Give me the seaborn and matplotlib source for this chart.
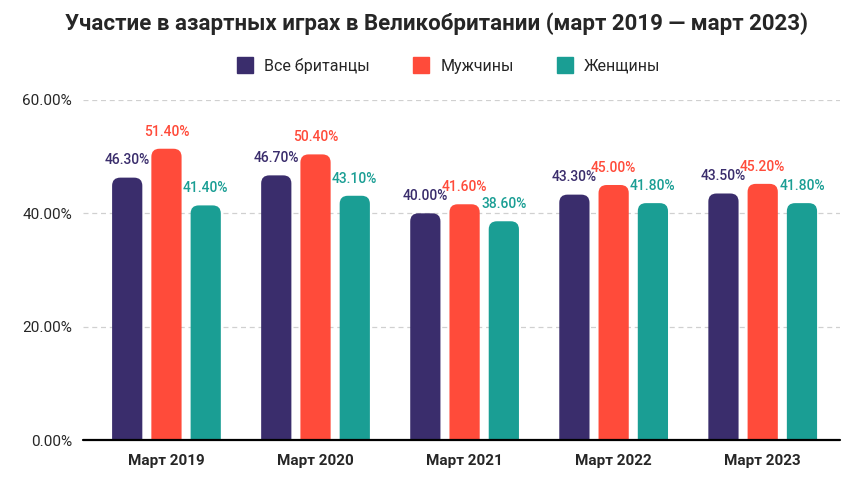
import matplotlib
matplotlib.use("Agg")
import matplotlib.pyplot as plt
import pandas as pd
import seaborn as sns
from matplotlib.patches import FancyBboxPatch
from matplotlib.lines import Line2D

periods = ["Март 2019", "Март 2020", "Март 2021", "Март 2022", "Март 2023"]
series = ["Все британцы", "Мужчины", "Женщины"]
all_uk = [46.3, 46.7, 40.0, 43.3, 43.5]
men = [51.4, 50.4, 41.6, 45.0, 45.2]
women = [41.4, 43.1, 38.6, 41.8, 41.8]
colors = ["#3a2d6c", "#ff4b3a", "#1a9e94"]

df = pd.DataFrame({
    "period": periods * 3,
    "group": [s for s in series for _ in periods],
    "value": all_uk + men + women,
})

sns.set_style("white")
plt.rcParams["font.family"] = ["Roboto", "DejaVu Sans"]

fig = plt.figure(figsize=(8.6, 4.84), dpi=100)
ax = fig.add_axes([0.0965, 0.0909, 0.8805, 0.7025])

sns.barplot(data=df, x="period", y="value", hue="group", palette=colors,
            width=0.79, gap=0.23, ax=ax, legend=False, saturation=1)

ax.set_xlim(-0.56, 4.52)
ax.set_ylim(0, 60)

# rounded tops: swap each bar for a rounded box that dips below the axis
for i, container in enumerate(ax.containers):
    for bar in container:
        x, w, h = bar.get_x(), bar.get_width(), bar.get_height()
        box = FancyBboxPatch((x, -5), w, h + 5,
                             boxstyle="round,pad=0,rounding_size=0.055",
                             mutation_aspect=26, facecolor=colors[i],
                             edgecolor="none", zorder=3)
        ax.add_patch(box)
        bar.set_visible(False)
        ax.text(x + w / 2, h + 1.8, f"{h:.2f}%", ha="center", va="bottom",
                color=colors[i], fontsize=10, fontweight="medium")

ax.set_yticks([0, 20, 40, 60])
ax.set_yticklabels([f"{v:.2f}%" for v in [0, 20, 40, 60]], fontsize=11)
ax.set_xticks(range(len(periods)))
ax.set_xticklabels(periods, fontsize=11, fontweight="bold")
ax.tick_params(axis="both", length=0, pad=8)
ax.tick_params(axis="x", pad=10)
ax.set_xlabel("")
ax.set_ylabel("")

for y in [20, 40, 60]:
    ax.axhline(y, color="#d0d0d0", linestyle=(0, (4, 3)), linewidth=0.9, zorder=0)
ax.axhline(0, color="black", linewidth=1.6, zorder=4, clip_on=False)
sns.despine(ax=ax, left=True, bottom=True)

handles = [Line2D([0], [0], marker="s", linestyle="none", markersize=11,
                  markerfacecolor=c, markeredgecolor=c) for c in colors]
fig.legend(handles, series, loc="center", bbox_to_anchor=(0.517, 0.864),
           ncol=3, frameon=False, fontsize=11.5, handletextpad=0.2,
           columnspacing=2.2)

fig.suptitle("Участие в азартных играх в Великобритании (март 2019 — март 2023)",
             x=0.508, y=0.975, fontsize=16, fontweight="bold")

fig.savefig("out.png", dpi=100)
